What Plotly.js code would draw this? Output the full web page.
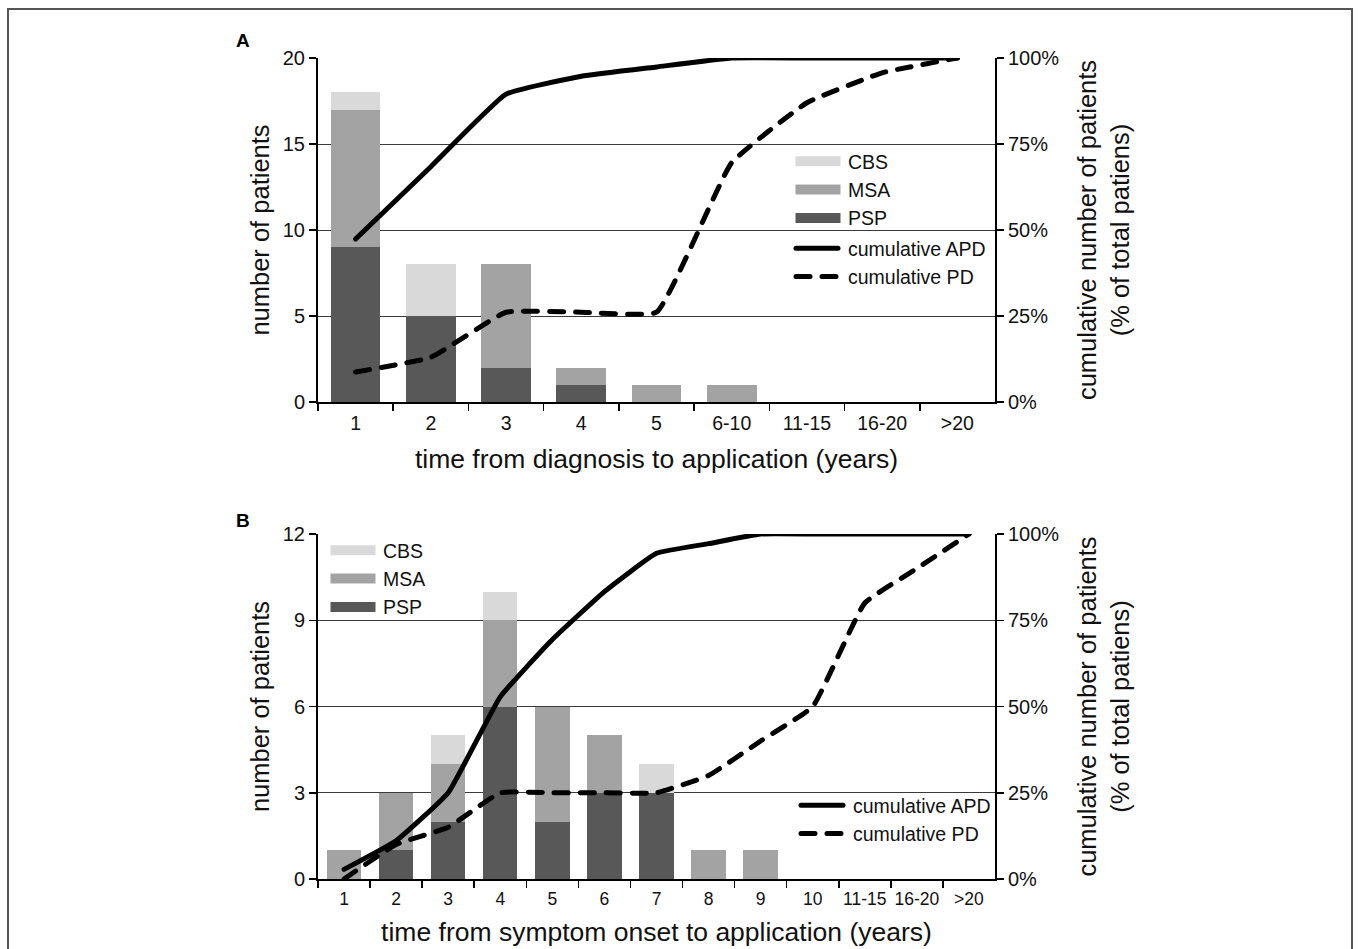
<!DOCTYPE html>
<html>
<head>
<meta charset="utf-8">
<script src="https://cdn.plot.ly/plotly-3.0.1.min.js"></script>
<style>
  html, body { margin: 0; padding: 0; background: #fff; }
  #chart { position: absolute; left: 0; top: 0; width: 1358px; height: 949px; }
  #frame { position: absolute; left: 7px; top: 8px; width: 1346px; height: 1000px;
           border: 2px solid #555; pointer-events: none; box-sizing: border-box; }
  .scatterlayer .js-line, .legendlines .js-line { stroke-linecap: round; stroke-linejoin: round; }
</style>
</head>
<body>
<div id="chart"></div>
<div id="frame"></div>
<script>
// ---------- Panel A: time from diagnosis to application ----------
const catsA = ['1', '2', '3', '4', '5', '6-10', '11-15', '16-20', '>20'];
const pspA  = [9, 5, 2, 1, 0, 0, 0, 0, 0];
const msaA  = [8, 0, 6, 1, 1, 1, 0, 0, 0];
const cbsA  = [1, 3, 0, 0, 0, 0, 0, 0, 0];
const cumApdA = [47.4, 68.4, 89.5, 94.7, 97.4, 100, 100, 100, 100];
const cumPdA  = [8.7, 13.0, 26.1, 26.1, 26.1, 69.6, 87.0, 95.7, 100];

// ---------- Panel B: time from symptom onset to application ----------
const catsB = ['1', '2', '3', '4', '5', '6', '7', '8', '9', '10', '11-15', '16-20', '>20'];
const pspB  = [0, 1, 2, 6, 2, 3, 3, 0, 0, 0, 0, 0, 0];
const msaB  = [1, 2, 2, 3, 4, 2, 0, 1, 1, 0, 0, 0, 0];
const cbsB  = [0, 0, 1, 1, 0, 0, 1, 0, 0, 0, 0, 0, 0];
const cumApdB = [2.8, 11.1, 25, 52.8, 69.4, 83.3, 94.4, 97.2, 100, 100, 100, 100, 100];
const cumPdB  = [0, 10, 15, 25, 25, 25, 25, 30, 40, 50, 80, 90, 100];

const pctTicks = [0, 25, 50, 75, 100];
const pctLabels = ['0%', '25%', '50%', '75%', '100%'];

const FONT = 'Liberation Sans, Arial, Helvetica, sans-serif';
const C_PSP = '#585858', C_MSA = '#a3a3a3', C_CBS = '#d9d9d9';
const TXT = '#111';

function bar(name, x, y, color, xa, ya, legend, rank) {
  return { type: 'bar', name, x, y, xaxis: xa, yaxis: ya, legend, legendrank: rank,
           marker: { color, line: { width: 0 } } };
}
function cum(name, x, y, dash, xa, ya, legend, rank) {
  return { type: 'scatter', mode: 'lines', name, x, y, xaxis: xa, yaxis: ya, legend, legendrank: rank,
           cliponaxis: false,
           line: { color: '#000', width: 5, dash, shape: 'spline', smoothing: 0.35 } };
}
const DASH = '14px,12px';

const data = [
  bar('PSP', catsA, pspA, C_PSP, 'x', 'y', 'legend', 3),
  bar('MSA', catsA, msaA, C_MSA, 'x', 'y', 'legend', 2),
  bar('CBS', catsA, cbsA, C_CBS, 'x', 'y', 'legend', 1),
  cum('cumulative APD', catsA, cumApdA, 'solid', 'x', 'y2', 'legend2', 4),
  cum('cumulative PD', catsA, cumPdA, DASH, 'x', 'y2', 'legend2', 5),
  bar('PSP', catsB, pspB, C_PSP, 'x2', 'y3', 'legend3', 3),
  bar('MSA', catsB, msaB, C_MSA, 'x2', 'y3', 'legend3', 2),
  bar('CBS', catsB, cbsB, C_CBS, 'x2', 'y3', 'legend3', 1),
  cum('cumulative APD', catsB, cumApdB, 'solid', 'x2', 'y4', 'legend4', 4),
  cum('cumulative PD', catsB, cumPdB, DASH, 'x2', 'y4', 'legend4', 5)
];

const W = 1358, H = 949;
const px = v => v / W;
const py = v => 1 - v / H;
const xDom = [px(318), px(995)];
const yDomA = [py(402), py(58)];
const yDomB = [py(879), py(534)];

function xAxis(title, anchor, fs, so) {
  return { domain: xDom, anchor, type: 'category', tickson: 'boundaries', tickangle: 0,
           ticks: 'outside', ticklen: 7, tickwidth: 1.5, tickcolor: '#000', ticklabelstandoff: 3,
           showline: true, linecolor: '#000', linewidth: 2, showgrid: false, zeroline: false,
           tickfont: { size: fs, color: TXT },
           title: { text: title, font: { size: 26.5, color: TXT }, standoff: so } };
}
function yLeft(dom, max, dt, anchor) {
  return { domain: dom, anchor, range: [0, max], dtick: dt, tick0: 0,
           ticks: 'outside', ticklen: 7, tickwidth: 1.5, tickcolor: '#000',
           showline: true, linecolor: '#000', linewidth: 2,
           showgrid: true, gridcolor: '#3a3a3a', gridwidth: 1, zeroline: false,
           tickfont: { size: 20, color: TXT },
           title: { text: 'number of patients', font: { size: 25.5, color: TXT }, standoff: 6 } };
}
function yRight(over, anchor) {
  return { overlaying: over, anchor, side: 'right', range: [0, 100],
           tickvals: pctTicks, ticktext: pctLabels,
           ticks: 'outside', ticklen: 7, tickwidth: 1.5, tickcolor: '#000',
           showline: true, linecolor: '#000', linewidth: 2, showgrid: false, zeroline: false,
           tickfont: { size: 20, color: TXT },
           title: { text: 'cumulative number of patients<br>(% of total patiens)',
                    font: { size: 25.5, color: TXT }, standoff: 20 } };
}
function leg(x, y) {
  return { x: px(x), y: py(y), xanchor: 'left', yanchor: 'top', bgcolor: 'rgba(0,0,0,0)',
           borderwidth: 0, traceorder: 'normal', itemwidth: 50,
           font: { size: 19.5, family: FONT, color: TXT } };
}

const layout = {
  width: W, height: H,
  margin: { l: 0, r: 0, t: 0, b: 0, autoexpand: false },
  paper_bgcolor: '#fff', plot_bgcolor: '#fff',
  font: { family: FONT, color: TXT },
  barmode: 'stack', bargap: 0.34,
  xaxis: xAxis('time from diagnosis to application (years)', 'y', 19.5, 16),
  yaxis: yLeft(yDomA, 20, 5, 'x'),
  yaxis2: yRight('y', 'x'),
  xaxis2: xAxis('time from symptom onset to application (years)', 'y3', 17.5, 14),
  yaxis3: yLeft(yDomB, 12, 3, 'x2'),
  yaxis4: yRight('y3', 'x2'),
  legend: leg(788, 142),
  legend2: leg(788, 229),
  legend3: leg(323, 531),
  legend4: leg(793, 786),
  annotations: [
    { text: '<b>A</b>', xref: 'paper', yref: 'paper', x: px(243), y: py(40), showarrow: false,
      font: { size: 19, color: '#000' }, xanchor: 'center', yanchor: 'middle' },
    { text: '<b>B</b>', xref: 'paper', yref: 'paper', x: px(243), y: py(520), showarrow: false,
      font: { size: 19, color: '#000' }, xanchor: 'center', yanchor: 'middle' }
  ]
};

Plotly.newPlot('chart', data, layout, { displayModeBar: false, staticPlot: true }).then(gd => {
  // widen the legend swatches to look like the original wide bars / lines
  gd.querySelectorAll('.legendpoints path').forEach(p => {
    const d = (p.getAttribute('d') || '').replace(/\s/g, '');
    if (/^M6,6H-6V-6H6Z$/i.test(d)) p.setAttribute('d', 'M22.5,5H-22.5V-5H22.5Z');
  });
  gd.querySelectorAll('.legendlines path').forEach(p => p.setAttribute('d', 'M8,0h42'));
});
</script>
</body>
</html>
